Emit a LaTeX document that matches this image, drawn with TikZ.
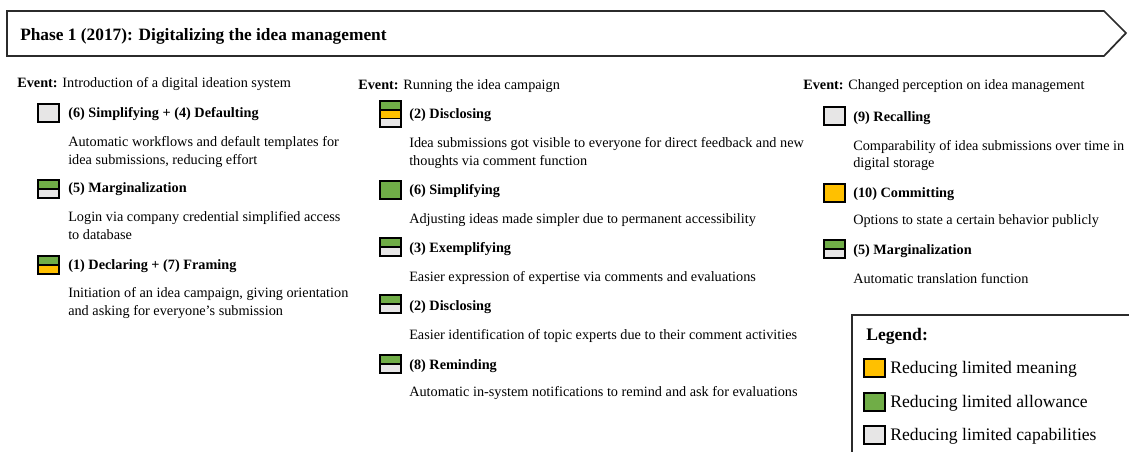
\documentclass[tikz,border=0pt]{standalone}
\usepackage{fontspec}
\setmainfont{Liberation Serif}
\definecolor{cyel}{HTML}{FFC000}
\definecolor{cgrn}{HTML}{70AD47}
\definecolor{cgry}{HTML}{E7E6E6}
\definecolor{cedge}{HTML}{2B2B2B}
\newcommand\swOne[3]{\filldraw[fill=#3,draw=black,line width=1.2pt] (#1,#2) rectangle ++(21,18);}
\newcommand\swTwo[4]{%
  \fill[#3] (#1,#2) rectangle ++(21,9);
  \fill[#4] (#1,#2) ++(0,9) rectangle ++(21,9);
  \draw[black,line width=1.2pt] (#1,#2) rectangle ++(21,18);
  \draw[black,line width=1.2pt] (#1,#2) ++(0,9) -- ++(21,0);}
\newcommand\swThree[5]{%
  \fill[#3] (#1,#2) rectangle ++(21,8.7);
  \fill[#4] (#1,#2) ++(0,8.7) rectangle ++(21,8.6);
  \fill[#5] (#1,#2) ++(0,17.3) rectangle ++(21,8.7);
  \draw[black,line width=1.2pt] (#1,#2) rectangle ++(21,26);
  \draw[black,line width=1.2pt] (#1,#2) ++(0,8.7) -- ++(21,0);
  \draw[black,line width=1.2pt] (#1,#2) ++(0,17.3) -- ++(21,0);}
\tikzset{
  body/.style={anchor=base west, inner sep=0pt, font=\fontsize{10.7}{12}\selectfont},
  head/.style={anchor=base west, inner sep=0pt, font=\fontsize{10.7}{12}\selectfont\bfseries},
  ttl/.style={anchor=base west, inner sep=0pt, font=\fontsize{13}{15}\selectfont\bfseries},
  leg/.style={anchor=base west, inner sep=0pt, font=\fontsize{13.2}{15}\selectfont},
}
\begin{document}
\begin{tikzpicture}[x=0.75pt,y=-0.75pt]
\useasboundingbox (0,0) rectangle (1129,451);
\clip (0,0) rectangle (1129,451);
% banner
\draw[cedge,line width=1.3pt] (7,11) -- (1104,11) -- (1126,33) -- (1104,56) -- (7,56) -- cycle;
\node[ttl] (title) at (20,40) {Phase 1 (2017): Digitalizing the idea management};
% column 1
\node[body] (e1) at (17,87) {\textbf{Event:} Introduction of a digital ideation system};
\swOne{38}{104}{cgry}
\node[head] (h11) at (68,117) {(6) Simplifying + (4) Defaulting};
\node[body] (d11a) at (68,146) {Automatic workflows and default templates for};
\node[body] (d11b) at (68,164) {idea submissions, reducing effort};
\swTwo{38}{180}{cgrn}{cgry}
\node[head] (h12) at (68,192) {(5) Marginalization};
\node[body] (d12a) at (68,221) {Login via company credential simplified access};
\node[body] (d12b) at (68,239) {to database};
\swTwo{38}{256}{cgrn}{cyel}
\node[head] (h13) at (68,269) {(1) Declaring + (7) Framing};
\node[body] (d13a) at (68,297) {Initiation of an idea campaign, giving orientation};
\node[body] (d13b) at (68,315) {and asking for everyone’s submission};
% column 2
\node[body] (e2) at (358,89) {\textbf{Event:} Running the idea campaign};
\swThree{380}{101}{cgrn}{cyel}{cgry}
\node[head] (h21) at (409,118) {(2) Disclosing};
\node[body] (d21a) at (409,147) {Idea submissions got visible to everyone for direct feedback and new};
\node[body] (d21b) at (409,165) {thoughts via comment function};
\swOne{380}{181}{cgrn}
\node[head] (h22) at (409,194) {(6) Simplifying};
\node[body] (d22) at (409,223) {Adjusting ideas made simpler due to permanent accessibility};
\swTwo{380}{238}{cgrn}{cgry}
\node[head] (h23) at (409,252) {(3) Exemplifying};
\node[body] (d23) at (409,281) {Easier expression of expertise via comments and evaluations};
\swTwo{380}{295}{cgrn}{cgry}
\node[head] (h24) at (409,310) {(2) Disclosing};
\node[body] (d24) at (409,339) {Easier identification of topic experts due to their comment activities};
\swTwo{380}{355}{cgrn}{cgry}
\node[head] (h25) at (409,369) {(8) Reminding};
\node[body] (d25) at (409,396) {Automatic in-system notifications to remind and ask for evaluations};
% column 3
\node[body] (e3) at (803,89) {\textbf{Event:} Changed perception on idea management};
\swOne{824}{107}{cgry}
\node[head] (h31) at (853,121) {(9) Recalling};
\node[body] (d31a) at (853,150) {Comparability of idea submissions over time in};
\node[body] (d31b) at (853,167) {digital storage};
\swOne{824}{184}{cyel}
\node[head] (h32) at (853,197) {(10) Committing};
\node[body] (d32) at (853,224) {Options to state a certain behavior publicly};
\swTwo{824}{240}{cgrn}{cgry}
\node[head] (h33) at (853,254) {(5) Marginalization};
\node[body] (d33) at (853,283) {Automatic translation function};
% legend
\draw[cedge,line width=1.3pt] (852,315) rectangle (1140,470);
\node[leg,font=\fontsize{13.2}{15}\selectfont\bfseries] (lg) at (866,340) {Legend:};
\swOne{864}{359}{cyel}
\node[leg] (l1) at (890,373) {Reducing limited meaning};
\swOne{864}{393}{cgrn}
\node[leg] (l2) at (890,407) {Reducing limited allowance};
\swOne{864}{426}{cgry}
\node[leg] (l3) at (890,440) {Reducing limited capabilities};
\end{tikzpicture}
\end{document}
